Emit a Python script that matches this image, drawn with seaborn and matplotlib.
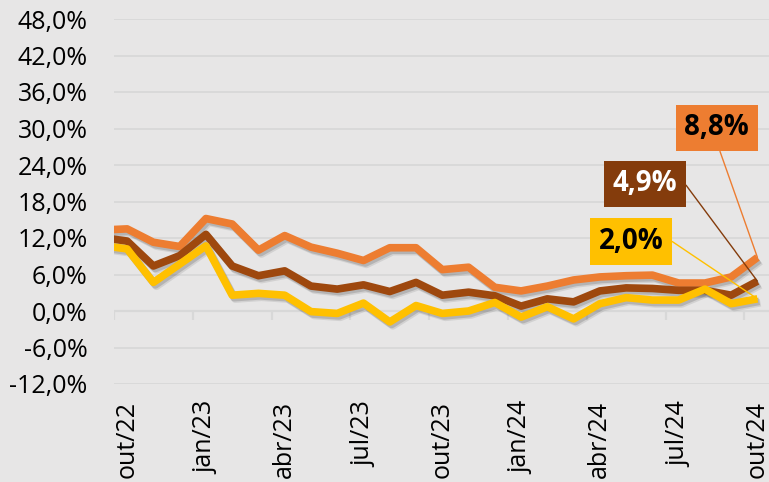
import numpy as np
import pandas as pd
import matplotlib
matplotlib.use('Agg')
import matplotlib.pyplot as plt
import matplotlib.patheffects as pe
import seaborn as sns

# ---- data (taxa acumulada em 12 meses, %)
meses = ['set/22', 'out/22', 'nov/22', 'dez/22', 'jan/23', 'fev/23', 'mar/23',
         'abr/23', 'mai/23', 'jun/23', 'jul/23', 'ago/23', 'set/23', 'out/23',
         'nov/23', 'dez/23', 'jan/24', 'fev/24', 'mar/24', 'abr/24', 'mai/24',
         'jun/24', 'jul/24', 'ago/24', 'set/24', 'out/24']
serie_laranja = [13.3, 13.5, 11.3, 10.6, 15.2, 14.3, 10.0, 12.4, 10.5, 9.5, 8.3,
                 10.4, 10.4, 6.8, 7.2, 3.9, 3.3, 4.1, 5.1, 5.6, 5.8, 5.9, 4.6,
                 4.6, 5.6, 8.8]
serie_marrom = [12.1, 11.5, 7.4, 9.1, 12.6, 7.4, 5.8, 6.6, 4.1, 3.6, 4.3, 3.2,
                4.7, 2.6, 3.1, 2.5, 0.8, 2.0, 1.5, 3.3, 3.8, 3.7, 3.4, 3.4,
                2.6, 4.9]
serie_amarela = [10.8, 10.2, 4.7, 7.7, 10.7, 2.6, 2.9, 2.6, -0.1, -0.4, 1.3,
                 -1.8, 0.9, -0.4, 0.0, 1.4, -1.0, 0.7, -1.3, 1.2, 2.2, 1.8, 1.8,
                 3.6, 1.2, 2.0]
rotulos_x = ['out/22', 'jan/23', 'abr/23', 'jul/23', 'out/23', 'jan/24',
             'abr/24', 'jul/24', 'out/24']
ticks_y = [-12, -6, 0, 6, 12, 18, 24, 30, 36, 42, 48]

# ---- styles
cores = {'laranja': '#ED7D31', 'marrom': '#9E480E', 'amarela': '#FFC000'}
cores_caixa = {'laranja': '#ED7D31', 'marrom': '#843C0C', 'amarela': '#FFC000'}
cor_texto = {'laranja': 'black', 'marrom': 'white', 'amarela': 'black'}
fundo = '#E7E6E6'
grade = '#D8D8D8'

sns.set_theme(style='white')
plt.rcParams['font.family'] = ['Open Sans', 'DejaVu Sans']

# long-form table, position = month index (out/22 = 0)
pos = np.arange(len(meses)) - 1
df = pd.concat([
    pd.DataFrame({'pos': pos, 'mes': meses, 'valor': serie_laranja, 'serie': 'laranja'}),
    pd.DataFrame({'pos': pos, 'mes': meses, 'valor': serie_marrom, 'serie': 'marrom'}),
    pd.DataFrame({'pos': pos, 'mes': meses, 'valor': serie_amarela, 'serie': 'amarela'}),
])

fig = plt.figure(figsize=(7.69, 4.82), dpi=100, facecolor=fundo)
ax = fig.add_axes([114 / 769, 1 - 384 / 482, 1 - 114 / 769, 365 / 482])
ax.set_facecolor(fundo)

sns.lineplot(data=df, x='pos', y='valor', hue='serie', palette=cores,
             linewidth=5.5, legend=False, sort=False, ax=ax)
for ln in ax.lines:
    ln.set_solid_joinstyle('round')
    ln.set_solid_capstyle('butt')
    ln.set_path_effects([
        pe.SimpleLineShadow(offset=(2.2, -2.8), shadow_color='k', alpha=0.10),
        pe.SimpleLineShadow(offset=(1.4, -1.8), shadow_color='k', alpha=0.16),
        pe.Normal()])
    ln.set_zorder(3)

# axes
ax.set_xlim(-0.5, 24.44)
ax.set_ylim(-12, 48)
ax.set_yticks(ticks_y)
ax.set_yticklabels([f'{v:.1f}%'.replace('.', ',') for v in ticks_y])
pos_rot = [meses.index(m) - 1 for m in rotulos_x]
ax.set_xticks(pos_rot)
ax.set_xticklabels(rotulos_x, rotation=90)
ax.tick_params(axis='both', length=0, labelsize=18, colors='black')
ax.tick_params(axis='y', pad=19)
ax.tick_params(axis='x', pad=12)
ax.set_xlabel('')
ax.set_ylabel('')
for s in ax.spines.values():
    s.set_visible(False)
ax.yaxis.grid(True, color=grade, linewidth=1.3)
ax.xaxis.grid(False)
ax.set_axisbelow(True)

# category axis at 0% with tick marks between periods
ax.axhline(0, color=grade, linewidth=1.6, zorder=1)
marcas = np.array(pos_rot) - 0.5
ax.vlines(marcas, -1.4, 0, color=grade, linewidth=1.6, zorder=1)

# end labels with leader lines
ult = len(meses) - 2
rotulos = [
    ('laranja', serie_laranja[-1], (-40.6, 129.5), (0.5, 0.0), 'arc3,rad=0'),
    ('marrom', serie_marrom[-1], (-112.6, 97.2), (1.0, 0.5), 'arc,angleA=0,armA=8,angleB=0,armB=0,rad=0'),
    ('amarela', serie_amarela[-1], (-126.6, 57.3), (1.0, 0.5), 'arc,angleA=0,armA=9,angleB=0,armB=0,rad=0'),
]
for nome, v, off, rp, cs in rotulos:
    ax.annotate(f'{v:.1f}%'.replace('.', ','), xy=(ult, v), xytext=off,
                textcoords='offset pixels', ha='center', va='center',
                fontsize=20, fontweight='bold', color=cor_texto[nome],
                bbox=dict(boxstyle='square,pad=0.32', fc=cores_caixa[nome], ec='none'),
                arrowprops=dict(arrowstyle='-', color=cores_caixa[nome], lw=1,
                                shrinkA=0, shrinkB=0, relpos=rp, connectionstyle=cs),
                zorder=5, annotation_clip=False)

fig.savefig('out.png', dpi=100, facecolor=fundo)
